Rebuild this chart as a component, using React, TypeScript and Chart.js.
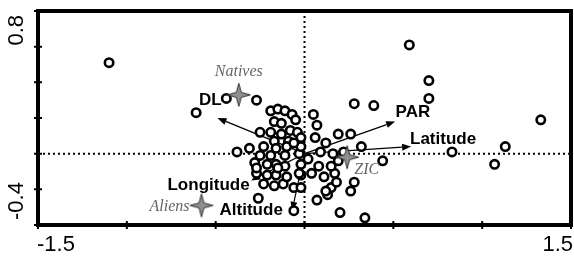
import React, { useEffect, useRef } from "react";
import { Chart, registerables } from "chart.js";
Chart.register(...registerables);

// Site scores (axis 1, axis 2)
const siteX = [
  -1.10, -0.61, -0.27, -0.44, 0.59, 0.70, 0.70, 1.33, 0.28, 0.39,
  0.83, 1.13, 1.07, 0.44, 0.32, 0.19, 0.26, 0.05, 0.07, 0.06,
  0.12, 0.09, 0.16, 0.28, 0.26, 0.07, 0.13, 0.15, 0.18, 0.17,
  0.15, 0.11, 0.04, 0.08, 0.02, -0.02, 0.20, 0.34, -0.06, -0.26,
  -0.06, -0.12, -0.17, -0.23, -0.27, -0.21, -0.16, -0.10, -0.03, -0.28,
  -0.21, -0.16, -0.11, -0.02, -0.25, -0.19, -0.11, -0.03, -0.19, -0.15,
  -0.11, -0.07, -0.05, -0.17, -0.13, -0.25, -0.19, -0.13, -0.08, -0.04,
  -0.02, -0.17, -0.09, -0.02, -0.16, -0.10, -0.23, -0.31, -0.38, 0.12,
  0.22, 0.19, -0.27, -0.15, -0.02, -0.06,
];
const siteY = [
  0.51, 0.23, 0.30, 0.31, 0.61, 0.41, 0.31, 0.19, 0.28, 0.27,
  0.01, 0.04, -0.06, -0.04, 0.04, 0.11, 0.11, 0.22, 0.16, 0.09,
  0.06, 0.01, 0.00, -0.16, -0.21, -0.26, -0.23, -0.19, -0.16, -0.11,
  -0.07, -0.13, -0.11, -0.07, -0.03, -0.12, -0.33, -0.36, -0.32, -0.25,
  -0.19, -0.17, -0.18, -0.17, -0.11, -0.12, -0.12, -0.13, -0.11, -0.05,
  -0.06, -0.06, -0.07, -0.06, -0.01, -0.01, -0.01, 0.00, 0.24, 0.25,
  0.24, 0.22, 0.19, 0.18, 0.17, 0.12, 0.12, 0.11, 0.13, 0.12,
  0.09, 0.07, 0.07, 0.04, 0.03, 0.04, 0.04, 0.03, 0.01, -0.21,
  0.01, -0.04, -0.08, -0.08, -0.19, 0.06,
];

// Environmental vectors
const vectorNames = ["DL", "PAR", "Latitude", "Longitude", "Altitude"];
const vectorX = [-0.49, 0.51, 0.60, -0.30, -0.07];
const vectorY = [0.20, 0.18, 0.04, -0.15, -0.32];
const vectorLabelX = [-0.53, 0.61, 0.78, -0.54, -0.30];
const vectorLabelY = [0.30, 0.23, 0.08, -0.18, -0.32];

// Group centroids
const groupNames = ["Natives", "Aliens", "ZIC"];
const groupX = [-0.37, -0.58, 0.24];
const groupY = [0.33, -0.29, -0.02];
const groupLabelX = [-0.37, -0.76, 0.35];
const groupLabelY = [0.46, -0.30, -0.09];

// Axis tick labels
const xTickValues = [-1.5, -1.0, -0.5, 0, 0.5, 1.0, 1.5];
const yTickValues = [-0.4, -0.2, 0, 0.2, 0.4, 0.6, 0.8];
const xTickLabels = ["-1.5", "1.5"];
const yTickLabels = ["-0.4", "0.8"];

function makeStar(): HTMLCanvasElement {
  const c = document.createElement("canvas");
  c.width = 26;
  c.height = 26;
  const ctx = c.getContext("2d")!;
  const cx = 13, cy = 13, R = 11.5, r = 3.5;
  ctx.beginPath();
  for (let i = 0; i < 8; i++) {
    const ang = -Math.PI / 2 + (i * Math.PI) / 4;
    const rad = i % 2 === 0 ? R : r;
    const px = cx + rad * Math.cos(ang);
    const py = cy + rad * Math.sin(ang);
    if (i === 0) ctx.moveTo(px, py);
    else ctx.lineTo(px, py);
  }
  ctx.closePath();
  ctx.fillStyle = "#8f8f8f";
  ctx.fill();
  ctx.strokeStyle = "#333";
  ctx.lineWidth = 1;
  ctx.stroke();
  return c;
}

const decorPlugin = {
  id: "decor",
  beforeDatasetsDraw(chart: any) {
    const { ctx, chartArea: a, scales } = chart;
    const xs = scales.x, ys = scales.y;
    const x0 = xs.getPixelForValue(0);
    const y0 = ys.getPixelForValue(0);
    ctx.save();
    ctx.strokeStyle = "#000";
    ctx.lineWidth = 2;
    ctx.setLineDash([2, 3]);
    ctx.beginPath();
    ctx.moveTo(x0, a.top);
    ctx.lineTo(x0, a.bottom);
    ctx.moveTo(a.left, y0);
    ctx.lineTo(a.right, y0);
    ctx.stroke();
    ctx.setLineDash([]);
    // arrows
    ctx.lineWidth = 1.2;
    ctx.fillStyle = "#000";
    for (let i = 0; i < vectorX.length; i++) {
      const ex = xs.getPixelForValue(vectorX[i]);
      const ey = ys.getPixelForValue(vectorY[i]);
      const ang = Math.atan2(ey - y0, ex - x0);
      const hl = 9, hw = 3.5;
      const bx = ex - hl * Math.cos(ang), by = ey - hl * Math.sin(ang);
      ctx.beginPath();
      ctx.moveTo(x0, y0);
      ctx.lineTo(bx, by);
      ctx.stroke();
      ctx.beginPath();
      ctx.moveTo(ex, ey);
      ctx.lineTo(bx + hw * Math.sin(ang), by - hw * Math.cos(ang));
      ctx.lineTo(bx - hw * Math.sin(ang), by + hw * Math.cos(ang));
      ctx.closePath();
      ctx.fill();
    }
    ctx.restore();
  },
  afterDatasetsDraw(chart: any) {
    const { ctx, scales } = chart;
    const xs = scales.x, ys = scales.y;
    ctx.save();
    ctx.textAlign = "center";
    ctx.textBaseline = "middle";
    ctx.fillStyle = "#000";
    ctx.font = "bold 17px 'Liberation Sans', Arial, sans-serif";
    for (let i = 0; i < vectorNames.length; i++) {
      ctx.fillText(vectorNames[i], xs.getPixelForValue(vectorLabelX[i]), ys.getPixelForValue(vectorLabelY[i]));
    }
    ctx.fillStyle = "#666";
    ctx.font = "italic 16px 'Liberation Serif', 'Times New Roman', serif";
    for (let i = 0; i < groupNames.length; i++) {
      ctx.fillText(groupNames[i], xs.getPixelForValue(groupLabelX[i]), ys.getPixelForValue(groupLabelY[i]));
    }
    ctx.restore();
  },
  afterDraw(chart: any) {
    const { ctx, chartArea: a, scales } = chart;
    const xs = scales.x, ys = scales.y;
    ctx.save();
    ctx.strokeStyle = "#000";
    ctx.lineWidth = 4;
    ctx.strokeRect(a.left, a.top, a.right - a.left, a.bottom - a.top);
    ctx.lineWidth = 2;
    ctx.beginPath();
    for (const v of xTickValues) {
      const px = xs.getPixelForValue(v);
      ctx.moveTo(px, a.bottom - 4);
      ctx.lineTo(px, a.bottom + 4);
    }
    for (const v of yTickValues) {
      const py = ys.getPixelForValue(v);
      ctx.moveTo(a.left - 4, py);
      ctx.lineTo(a.left + 4, py);
    }
    ctx.stroke();
    ctx.fillStyle = "#000";
    ctx.font = "22px 'Liberation Sans', Arial, sans-serif";
    ctx.textBaseline = "top";
    ctx.textAlign = "left";
    ctx.fillText(xTickLabels[0], xs.getPixelForValue(xTickValues[0]) - 1, a.bottom + 9);
    ctx.textAlign = "right";
    ctx.fillText(xTickLabels[1], xs.getPixelForValue(xTickValues[xTickValues.length - 1]) + 2, a.bottom + 9);
    // y labels rotated
    ctx.save();
    ctx.translate(a.left - 10, ys.getPixelForValue(yTickValues[0]) - 5);
    ctx.rotate(-Math.PI / 2);
    ctx.textAlign = "left";
    ctx.textBaseline = "bottom";
    ctx.fillText(yTickLabels[0], 0, 0);
    ctx.restore();
    ctx.save();
    ctx.translate(a.left - 10, ys.getPixelForValue(yTickValues[yTickValues.length - 1]) + 4);
    ctx.rotate(-Math.PI / 2);
    ctx.textAlign = "right";
    ctx.textBaseline = "bottom";
    ctx.fillText(yTickLabels[1], 0, 0);
    ctx.restore();
    ctx.restore();
  },
};

export default function App() {
  const ref = useRef<HTMLCanvasElement | null>(null);
  useEffect(() => {
    document.body.style.margin = "0";
    const star = makeStar();
    const chart = new Chart(ref.current!, {
      type: "scatter",
      data: {
        datasets: [
          {
            label: "groups",
            data: groupX.map((x, i) => ({ x, y: groupY[i] })),
            pointStyle: star as any,
            pointRadius: 12,
          },
          {
            label: "sites",
            data: siteX.map((x, i) => ({ x, y: siteY[i] })),
            pointRadius: 4.2,
            borderWidth: 2.6,
            borderColor: "#000",
            backgroundColor: "#fff",
          },
        ],
      },
      options: {
        responsive: false,
        animation: false,
        devicePixelRatio: 1,
        layout: { autoPadding: false, padding: { left: 38, top: 11, right: 3, bottom: 34 } },
        plugins: { legend: { display: false }, tooltip: { enabled: false } },
        scales: {
          x: { display: false, min: -1.5, max: 1.5 },
          y: { display: false, min: -0.4, max: 0.8 },
        },
      },
      plugins: [decorPlugin],
    });
    return () => chart.destroy();
  }, []);
  return <canvas ref={ref} width={574} height={259} style={{ display: "block" }} />;
}
